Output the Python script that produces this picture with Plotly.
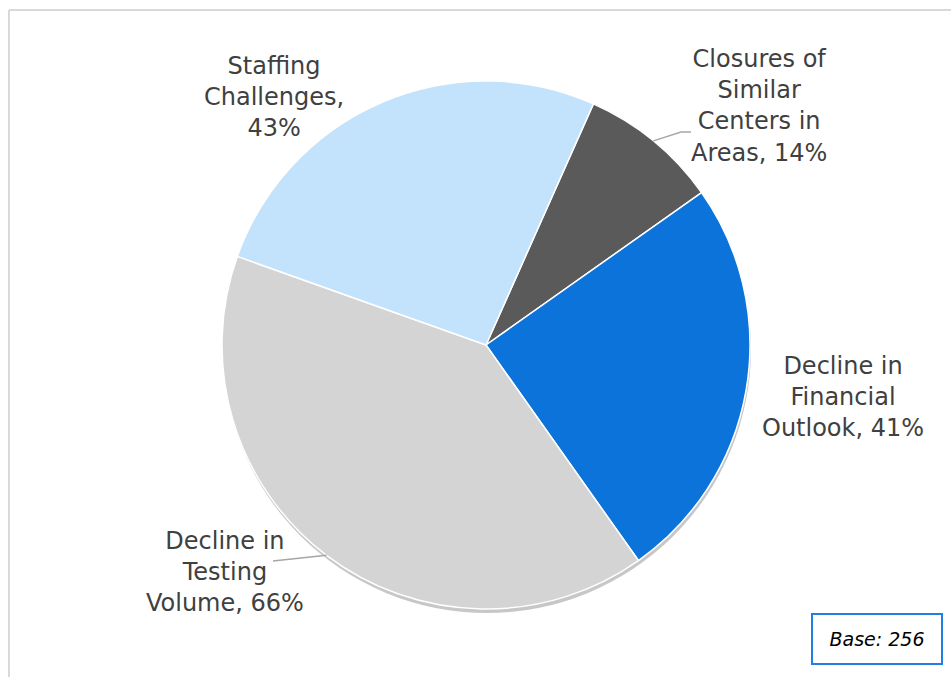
import math
import plotly.graph_objects as go

# ---- data ----
categories = ["Closures of Similar Centers in Areas", "Decline in Financial Outlook",
              "Decline in Testing Volume", "Staffing Challenges"]
label_lines = [["Closures of", "Similar", "Centers in", "Areas, {v}%"],
               ["Decline in", "Financial", "Outlook, {v}%"],
               ["Decline in", "Testing", "Volume, {v}%"],
               ["Staffing", "Challenges,", "{v}%"]]
values = [14, 41, 66, 43]
colors = ["#5A5A5A", "#0B73D9", "#D4D4D4", "#C3E2FC"]
base_text = "Base: 256"

W, H = 951, 677
CX, CY, R = 486, 345, 264
ROT = 24  # start angle of first slice, clockwise from 12 o'clock

def px(x):
    return x / W

def py(y):
    return 1 - y / H

fig = go.Figure()

# soft drop shadow
fig.add_trace(go.Pie(
    values=[1], marker=dict(colors=["rgba(0,0,0,0.22)"], line=dict(width=0)),
    domain=dict(x=[px(CX - R + 1), px(CX + R + 1)], y=[py(CY + R + 4), py(CY - R + 4)]),
    textinfo="none", hoverinfo="skip", sort=False, showlegend=False))

fig.add_trace(go.Pie(
    labels=categories, values=values, sort=False, direction="clockwise", rotation=ROT,
    marker=dict(colors=colors, line=dict(color="#FFFFFF", width=1.5)),
    domain=dict(x=[px(CX - R), px(CX + R)], y=[py(CY + R), py(CY - R)]),
    textinfo="none", hovertemplate="%{label}: %{value}%<extra></extra>",
    showlegend=False))

# label positions (pixel centers)
label_pos = [(759, 106), (843, 397), (225, 572), (274, 97)]
annotations = []
for lines, v, (x, y) in zip(label_lines, values, label_pos):
    text = "<br>".join(l.format(v=v) for l in lines)
    annotations.append(dict(x=px(x), y=py(y), xref="paper", yref="paper", text=text,
                            showarrow=False, xanchor="center", yanchor="middle", align="center",
                            font=dict(family="DejaVu Sans", size=24, color="#404040")))

annotations.append(dict(x=px(877), y=py(639), xref="paper", yref="paper",
                        text="<i>" + base_text + "</i>", showarrow=False,
                        xanchor="center", yanchor="middle", width=128, height=48,
                        bordercolor="#1F80E3", borderwidth=2, borderpad=0, bgcolor="white",
                        font=dict(family="DejaVu Sans", size=19, color="#000000")))

# leader lines from slice mid-angles
total = sum(values)
cum = 0
mids = []
for v in values:
    mids.append(ROT + (cum + v / 2) / total * 360)
    cum += v

def edge(angle):
    a = math.radians(angle)
    return CX + R * math.sin(a), CY - R * math.cos(a)

shapes = []
ex, ey = edge(mids[0])
shapes.append(dict(type="path", xref="paper", yref="paper",
                   path=f"M {px(ex)} {py(ey)} L {px(681)} {py(132)} L {px(691)} {py(132)}",
                   line=dict(color="#A6A6A6", width=1.5)))
ex, ey = edge(mids[2])
shapes.append(dict(type="path", xref="paper", yref="paper",
                   path=f"M {px(ex)} {py(ey)} L {px(273)} {py(561)}",
                   line=dict(color="#A6A6A6", width=1.5)))

# outer frame (top and left edges visible)
shapes.append(dict(type="line", xref="paper", yref="paper", x0=px(9), x1=1.01, y0=py(10), y1=py(10),
                   line=dict(color="#D9D9D9", width=2)))
shapes.append(dict(type="line", xref="paper", yref="paper", x0=px(9), x1=px(9), y0=py(10), y1=-0.01,
                   line=dict(color="#D9D9D9", width=2)))

fig.update_layout(width=W, height=H, margin=dict(l=0, r=0, t=0, b=0),
                  paper_bgcolor="white", plot_bgcolor="white",
                  annotations=annotations, shapes=shapes, showlegend=False)

fig.write_html("out.html", config={"displayModeBar": False},
               post_script="document.body.style.margin='0';"
                           "document.documentElement.style.overflow='hidden';")
